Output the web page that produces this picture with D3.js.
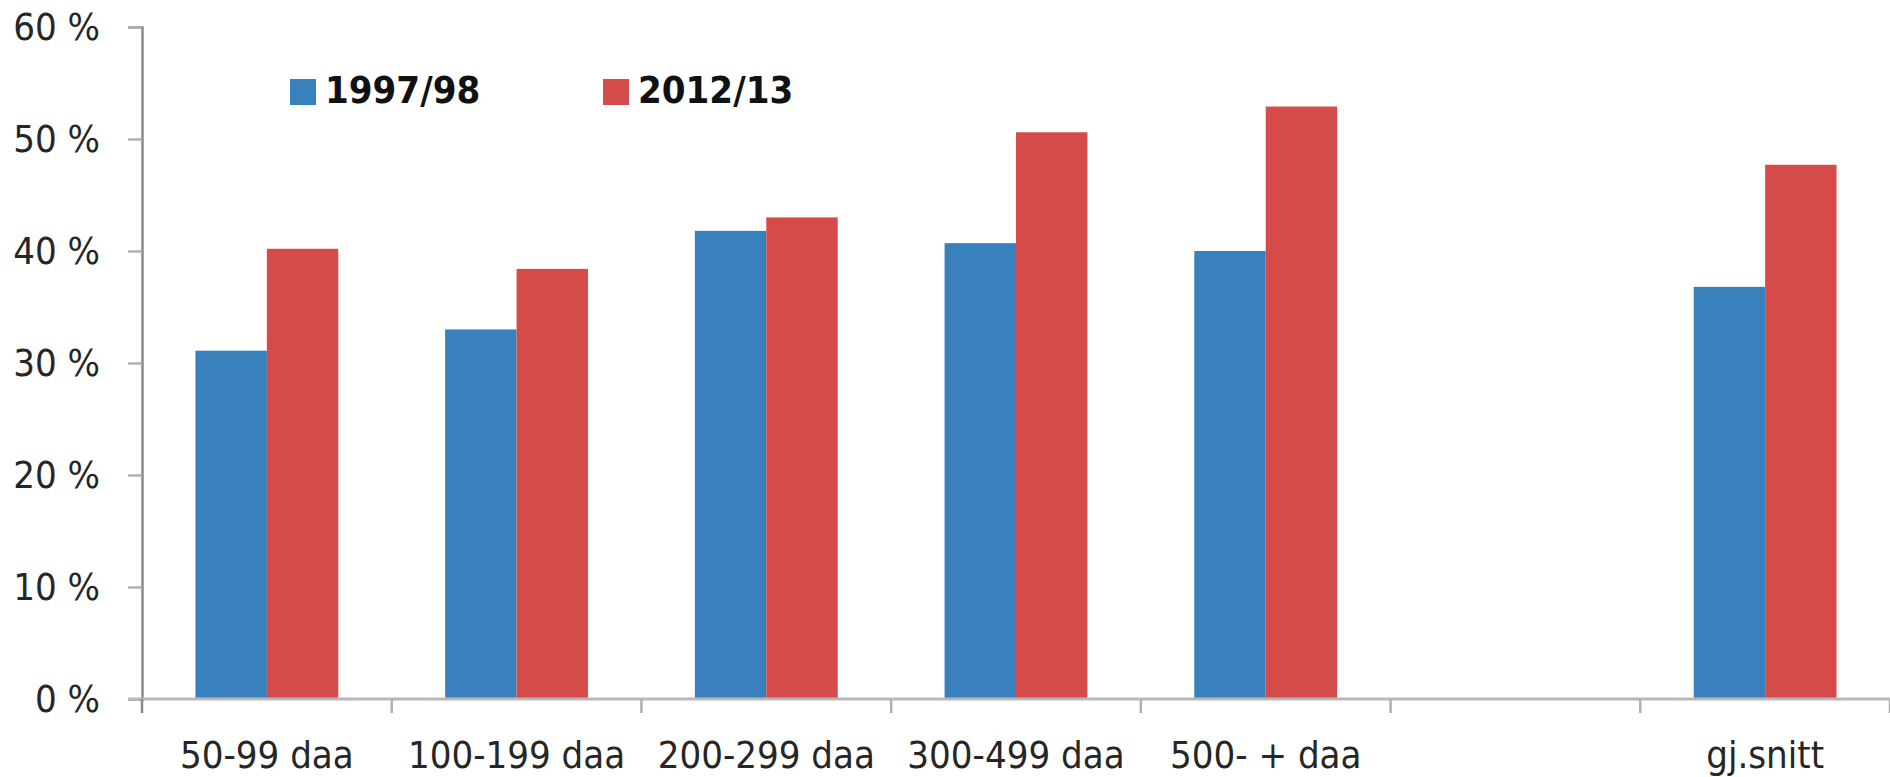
<!DOCTYPE html>
<meta charset="utf-8">
<style>
    body { margin: 0; background: #fff; }
    svg text { font-family: "Liberation Sans Narrow", "DejaVu Sans Condensed", "Liberation Sans", sans-serif; fill: #262626; }
    .tick text { font-size: 38px; }
    .legend text { font-size: 38px; font-weight: bold; fill: #111; }
</style>
<svg id="svg" width="1890" height="777"></svg>
<script src="https://d3js.org/d3.v7.min.js"></script>
<script>

// categories ("" is the empty slot before the average)
var categories = ["50-99 daa", "100-199 daa", "200-299 daa", "300-499 daa", "500- + daa", "", "gj.snitt"];
var series = ["1997/98", "2012/13"];
var values9798 = [31.1, 33.0, 41.8, 40.7, 40.0, null, 36.8];
var values1213 = [40.2, 38.4, 43.0, 50.6, 52.9, null, 47.7];
var yTicks = [0, 10, 20, 30, 40, 50, 60];
var colors = ["#3981bc", "#d44b49"];

var svg = d3.select("#svg"),
    plotLeft = 142, plotRight = 1890, plotTop = 27, plotBottom = 699;

var x0 = d3.scaleBand()
    .domain(categories)
    .range([plotLeft, plotRight])
    .padding(0);

var barW = x0.bandwidth() * 0.286;
var x1 = d3.scaleBand()
    .domain(series)
    .range([x0.bandwidth() / 2 - barW, x0.bandwidth() / 2 + barW]);

var y = d3.scaleLinear()
    .domain([0, 60])
    .range([plotBottom, plotTop]);

var rows = categories.map(function(c, i) {
    return {cat: c, vals: [values9798[i], values1213[i]]};
});

// bars
var group = svg.selectAll(".grp")
    .data(rows)
  .enter().append("g")
    .attr("class", "grp")
    .attr("transform", function(d) { return "translate(" + x0(d.cat) + ",0)"; });

group.selectAll("rect")
    .data(function(d) {
        return d.vals.map(function(v, j) { return {s: series[j], v: v, j: j}; })
            .filter(function(d) { return d.v != null; });
    })
  .enter().append("rect")
    .attr("x", function(d) { return x1(d.s); })
    .attr("width", x1.bandwidth())
    .attr("y", function(d) { return y(d.v); })
    .attr("height", function(d) { return y(0) - y(d.v); })
    .attr("fill", function(d) { return colors[d.j]; });

// y axis
var yAxis = svg.append("g")
    .attr("transform", "translate(" + plotLeft + ",0)")
    .call(d3.axisLeft(y).tickValues(yTicks).tickSize(14).tickPadding(28)
        .tickFormat(function(d) { return d + " %"; }));
yAxis.attr("font-family", null).attr("font-size", null);
yAxis.select(".domain").attr("stroke", "#8a8a8a").attr("stroke-width", 2.5);
yAxis.selectAll(".tick line").attr("stroke", "#b0b0b0").attr("stroke-width", 2.5);

// x axis baseline
svg.append("line")
    .attr("x1", plotLeft - 14).attr("x2", plotRight)
    .attr("y1", y(0)).attr("y2", y(0))
    .attr("stroke", "#b8b8b8").attr("stroke-width", 3);

// category boundary ticks
var bounds = d3.range(categories.length + 1).map(function(i) { return plotLeft + i * x0.step(); });
svg.selectAll(".btick")
    .data(bounds)
  .enter().append("line")
    .attr("class", "btick")
    .attr("x1", function(d) { return d; }).attr("x2", function(d) { return d; })
    .attr("y1", y(0)).attr("y2", y(0) + 14)
    .attr("stroke", function(d, i) { return i === 0 ? "#8a8a8a" : "#b0b0b0"; })
    .attr("stroke-width", 2.5);

// category labels
var xAxis = svg.append("g")
    .attr("class", "xlabels")
    .attr("transform", "translate(0," + y(0) + ")")
    .call(d3.axisBottom(x0).tickSize(0).tickPadding(42));
xAxis.attr("font-family", null).attr("font-size", null);
xAxis.select(".domain").remove();

// legend
var legend = svg.append("g").attr("class", "legend");
var legX = [290, 603];
series.forEach(function(s, i) {
    legend.append("rect")
        .attr("x", legX[i]).attr("y", 79)
        .attr("width", 26).attr("height", 26)
        .attr("fill", colors[i]);
    legend.append("text")
        .attr("x", legX[i] + 35).attr("y", 103)
        .text(s);
});

</script>
